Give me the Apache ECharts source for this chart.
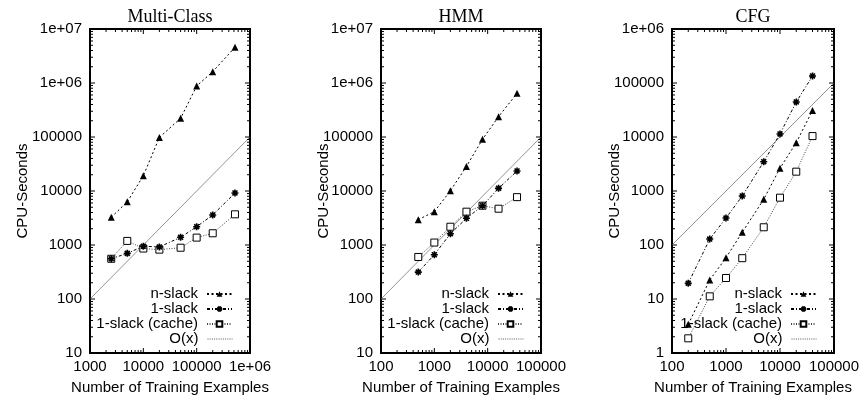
<!DOCTYPE html>
<html><head><meta charset="utf-8">
<script src="https://cdn.jsdelivr.net/npm/echarts@6/dist/echarts.min.js"></script>
<style>html,body{margin:0;padding:0;background:#fff}#c{width:865px;height:402px}</style>
</head><body><div id="c"></div>
<script>
// ---- data ----
const legendNames = ['n-slack', '1-slack', '1-slack (cache)', 'O(x)'];
const panelTitles = ['Multi-Class', 'HMM', 'CFG'];

const mcX = [2500, 5000, 10000, 20000, 50000, 100000, 200000, 522911];
const mcNslack = [3260, 6300, 19200, 98000, 222000, 880000, 1620000, 4580000];
const mc1slack = [556, 700, 950, 920, 1390, 2180, 3600, 9200];
const mcCache = [556, 1190, 860, 820, 890, 1370, 1650, 3700];
const mcOx = [[1000, 100], [1000000, 100000]];

const hmmX = [500, 1000, 2000, 4000, 8000, 16000, 35531];
const hmmNslack = [2950, 4140, 10100, 28500, 90600, 238000, 644000];
const hmm1slack = [315, 660, 1620, 3120, 5340, 11200, 23500];
const hmmCache = [600, 1110, 2180, 4140, 5340, 4700, 7700];
const hmmOx = [[100, 100], [100000, 100000]];

const cfgX = [200, 500, 1000, 2000, 5000, 10000, 20000, 40000];
const cfgNslack = [3.4, 22.5, 58, 172, 702, 2650, 7850, 31000];
const cfg1slack = [19.5, 129, 316, 808, 3480, 11400, 44500, 135000];
const cfgCache = [1.87, 11.2, 24.5, 57, 213, 752, 2280, 10400];
const cfgOx = [[100, 100], [100000, 100000]];

const xRanges = [[1000, 1000000], [100, 100000], [100, 100000]];
const yRanges = [[10, 10000000], [10, 10000000], [1, 1000000]];
const xAxisName = 'Number of Training Examples';
const yAxisName = 'CPU-Seconds';

// ---- layout ----
const SANS = '"Liberation Sans", Arial, Helvetica, sans-serif';
const SERIF = '"Liberation Serif", "Times New Roman", serif';
const W = 865;
const layout = [
  {left: 90, width: 160, yGap: 60},
  {left: 381, width: 160, yGap: 50},
  {left: 672, width: 162, yGap: 50}
];
const TOP = 29, HEIGHT = 324;

const panels = [
  {x: mcX, n: mcNslack, one: mc1slack, cache: mcCache, ox: mcOx},
  {x: hmmX, n: hmmNslack, one: hmm1slack, cache: hmmCache, ox: hmmOx},
  {x: cfgX, n: cfgNslack, one: cfg1slack, cache: cfgCache, ox: cfgOx}
];

function expFmt(v) {
  if (v >= 1e6) {
    const e = Math.round(Math.log10(v));
    return '1e+' + (e < 10 ? '0' : '') + e;
  }
  return String(Math.round(v));
}
function pairs(xs, ys) { return xs.map((x, i) => [x, ys[i]]); }
function tickValues(min, max) {
  const major = [], minor = [];
  for (let d = min; d <= max * 1.0001; d *= 10) {
    major.push(d);
    if (d * 10 <= max * 1.0001) for (let k = 2; k <= 9; k++) minor.push(d * k);
  }
  return {major, minor};
}

const asterisk = 'path://M0,5L10,5M5,0L5,10M1.5,1.5L8.5,8.5M8.5,1.5L1.5,8.5';
const styles = {
  'n-slack': {lineStyle: {color: '#000', width: 1, type: [2, 2.5]}, symbol: 'triangle', symbolSize: 7,
              itemStyle: {color: '#000'}},
  '1-slack': {lineStyle: {color: '#000', width: 1, type: [3, 2, 1, 2]}, symbol: asterisk, symbolSize: 7,
              itemStyle: {color: '#000', borderColor: '#000', borderWidth: 1.6}},
  '1-slack (cache)': {lineStyle: {color: '#444', width: 1, type: [1, 1.5]}, symbol: 'rect', symbolSize: 7,
              itemStyle: {color: '#fff', borderColor: '#000', borderWidth: 1}},
  'O(x)': {lineStyle: {color: '#777', width: 0.8, type: 'solid'}, symbol: 'none', symbolSize: 0,
              itemStyle: {color: '#777'}}
};

const option = {
  backgroundColor: '#fff',
  animation: false,
  title: [], grid: [], xAxis: [], yAxis: [], series: [], legend: []
};

panels.forEach((p, i) => {
  const L = layout[i];
  const [xMin, xMax] = xRanges[i];
  const [yMin, yMax] = yRanges[i];
  option.title.push({
    text: panelTitles[i], left: L.left + L.width / 2, top: 8, textAlign: 'center', padding: 0,
    textStyle: {fontFamily: SERIF, fontSize: 18, fontWeight: 'normal', color: '#000'}
  });
  option.grid.push({left: L.left, top: TOP, width: L.width, height: HEIGHT, show: true,
    borderColor: '#000', borderWidth: 2, backgroundColor: 'transparent'});
  option.xAxis.push({
    type: 'log', logBase: 10, gridIndex: i, min: xMin, max: xMax,
    name: xAxisName, nameLocation: 'middle', nameGap: 27, nameMoveOverlap: false,
    nameTextStyle: {fontFamily: SANS, fontSize: 15, color: '#000'},
    axisLine: {show: false}, axisTick: {show: false}, splitLine: {show: false},
    axisLabel: {fontFamily: SANS, fontSize: 15, color: '#000', margin: 6, formatter: expFmt,
                showMinLabel: true, showMaxLabel: true, hideOverlap: false}
  });
  option.yAxis.push({
    type: 'log', logBase: 10, gridIndex: i, min: yMin, max: yMax,
    name: yAxisName, nameLocation: 'middle', nameGap: L.yGap, nameMoveOverlap: false,
    nameTextStyle: {fontFamily: SANS, fontSize: 15, color: '#000'},
    axisLine: {show: false}, axisTick: {show: false}, splitLine: {show: false},
    axisLabel: {fontFamily: SANS, fontSize: 15, color: '#000', margin: 8, formatter: expFmt,
                showMinLabel: true, showMaxLabel: true, hideOverlap: false}
  });

  const seriesData = [
    ['n-slack', pairs(p.x, p.n)],
    ['1-slack', pairs(p.x, p.one)],
    ['1-slack (cache)', pairs(p.x, p.cache)],
    ['O(x)', p.ox]
  ];
  [3, 2, 1, 0].forEach(k => {
    const [name, data] = seriesData[k];
    const s = styles[name];
    option.series.push({
      type: 'line', name, data, xAxisIndex: i, yAxisIndex: i,
      symbol: s.symbol, symbolSize: s.symbolSize, showSymbol: s.symbol !== 'none',
      lineStyle: s.lineStyle, itemStyle: s.itemStyle, z: 3 + (3 - k), clip: true, silent: true
    });
  });

  // ticks (inward, mirrored on all four sides), placed through the library's scales
  const xt = tickValues(xMin, xMax), yt = tickValues(yMin, yMax);
  const tickData = [];
  xt.major.forEach(v => tickData.push([v, yMin, 5, 1]));
  xt.minor.forEach(v => tickData.push([v, yMin, 3, 1]));
  yt.major.forEach(v => tickData.push([xMin, v, 5, 0]));
  yt.minor.forEach(v => tickData.push([xMin, v, 3, 0]));
  option.series.push({
    type: 'custom', xAxisIndex: i, yAxisIndex: i, silent: true, z: 10, clip: false,
    data: tickData,
    renderItem: function (params, api) {
      const len = api.value(2), isX = api.value(3);
      const st = {stroke: '#000', lineWidth: 1};
      if (isX) {
        const v = api.value(0);
        const a = api.coord([v, yMin]), b = api.coord([v, yMax]);
        return {type: 'group', children: [
          {type: 'line', shape: {x1: a[0], y1: a[1], x2: a[0], y2: a[1] - len}, style: st},
          {type: 'line', shape: {x1: b[0], y1: b[1], x2: b[0], y2: b[1] + len}, style: st}
        ]};
      } else {
        const v = api.value(1);
        const a = api.coord([xMin, v]), b = api.coord([xMax, v]);
        return {type: 'group', children: [
          {type: 'line', shape: {x1: a[0], y1: a[1], x2: a[0] + len, y2: a[1]}, style: st},
          {type: 'line', shape: {x1: b[0], y1: b[1], x2: b[0] - len, y2: b[1]}, style: st}
        ]};
      }
    }
  });

  // legend rows, right aligned inside the plot
  const sampleEnd = L.left + L.width - 17;
  legendNames.forEach((nm, r) => {
    const item = nm === 'O(x)'
      ? {name: nm, itemStyle: {opacity: 0}, lineStyle: {type: [1, 1.2], color: '#555', width: 1}}
      : {name: nm};
    option.legend.push({
      data: [item], orient: 'horizontal', align: 'right', selectedMode: false,
      right: W - sampleEnd, top: 294 + r * 15 - 8, padding: 0, itemGap: 0,
      itemWidth: 25, itemHeight: 7,
      textStyle: {fontFamily: SANS, fontSize: 15, color: '#000', lineHeight: 16, padding: [0, 4, 0, 0]}
    });
  });
});

const chart = echarts.init(document.getElementById('c'), null, {renderer: 'canvas'});
chart.setOption(option);
</script>
</body></html>
